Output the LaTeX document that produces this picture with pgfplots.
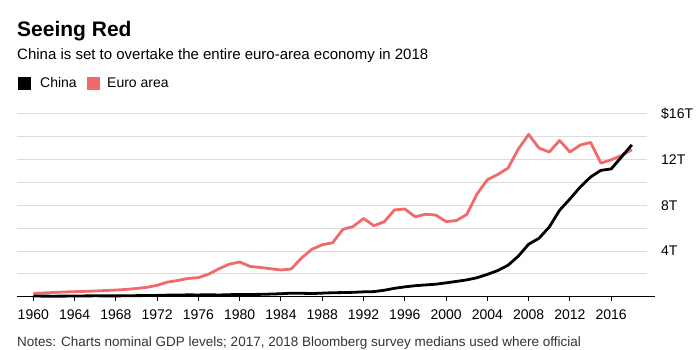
\documentclass[border=0pt]{standalone}
\usepackage{pgfplots}
\pgfplotsset{compat=1.18}
\usepackage{fontspec}
\setmainfont{Liberation Sans}
\definecolor{euro}{HTML}{F0696B}
\definecolor{gridc}{HTML}{DCDCDC}
\definecolor{notec}{HTML}{333333}
\begin{document}
\begin{tikzpicture}
\useasboundingbox (0pt,0pt) rectangle (700pt,350pt);
\node[anchor=base west,inner sep=0pt,font=\fontsize{21}{24}\selectfont\bfseries] at (17pt,313.3pt) {Seeing Red};
\node[anchor=base west,inner sep=0pt,font=\fontsize{15}{18}\selectfont] at (17pt,290pt) {China is set to overtake the entire euro-area economy in 2018};
\fill[black] (18pt,260pt) rectangle (31pt,273pt);
\node[anchor=base west,inner sep=0pt,font=\fontsize{14}{17}\selectfont] at (40pt,262.7pt) {China};
\fill[euro] (87pt,260pt) rectangle (100pt,273pt);
\node[anchor=base west,inner sep=0pt,font=\fontsize{14}{17}\selectfont] at (107pt,262.7pt) {Euro area};
\node[anchor=base west,inner sep=0pt,font=\fontsize{13.5}{16}\selectfont,text=notec] at (17pt,4pt) {Notes: Charts nominal GDP levels; 2017, 2018 Bloomberg survey medians used where official};
\begin{axis}[
  at={(16.7pt,53.3pt)}, anchor=south west,
  scale only axis, width=630.3pt, height=182.7pt,
  xmin=1958.39, xmax=2019.47, ymin=0, ymax=16,
  axis x line=bottom, axis y line=right,
  x axis line style={-, black, line width=1.1pt, shorten >=-8pt},
  y axis line style={draw=none},
  xtick={1960,1964,...,2016},
  xticklabels={1960,1964,1968,1972,1976,1980,1984,1988,1992,1996,2000,2004,2008,2012,2016},
  ytick={2,4,...,16},
  yticklabels={,4T,,8T,,12T,,\$16T},
  ymajorgrids, grid style={gridc, line width=1pt},
  tick align=outside,
  x tick style={black, line width=1pt},
  major tick length=4pt,
  y tick style={draw=none},
  /pgf/number format/assume math mode=true,
  tick label style={font=\fontsize{14}{17}\selectfont},
  yticklabel style={anchor=west, inner sep=0pt, xshift=10pt},
  xticklabel style={anchor=base, inner sep=0pt, yshift=-19pt},
  clip=false,
]
\addplot[euro, line width=2.8pt, line join=round] coordinates {
(1960,0.30)(1961,0.33)(1962,0.37)(1963,0.41)(1964,0.44)(1965,0.47)(1966,0.50)(1967,0.54)(1968,0.58)(1969,0.64)
(1970,0.72)(1971,0.82)(1972,1.00)(1973,1.28)(1974,1.42)(1975,1.60)(1976,1.67)(1977,1.98)(1978,2.45)(1979,2.85)
(1980,3.04)(1981,2.65)(1982,2.56)(1983,2.45)(1984,2.34)(1985,2.43)(1986,3.40)(1987,4.15)(1988,4.55)(1989,4.72)
(1990,5.90)(1991,6.15)(1992,6.85)(1993,6.22)(1994,6.56)(1995,7.60)(1996,7.68)(1997,7.00)(1998,7.22)(1999,7.15)
(2000,6.58)(2001,6.67)(2002,7.20)(2003,9.00)(2004,10.24)(2005,10.70)(2006,11.26)(2007,12.93)(2008,14.21)(2009,13.02)
(2010,12.67)(2011,13.68)(2012,12.67)(2013,13.28)(2014,13.51)(2015,11.70)(2016,11.99)(2017,12.37)(2018,12.87)
};
\addplot[black, line width=2.8pt, line join=round] coordinates {
(1960,0.060)(1961,0.050)(1962,0.047)(1963,0.051)(1964,0.059)(1965,0.070)(1966,0.076)(1967,0.072)(1968,0.070)(1969,0.079)
(1970,0.093)(1971,0.099)(1972,0.114)(1973,0.139)(1974,0.144)(1975,0.163)(1976,0.154)(1977,0.175)(1978,0.150)(1979,0.178)
(1980,0.191)(1981,0.196)(1982,0.205)(1983,0.230)(1984,0.260)(1985,0.309)(1986,0.301)(1987,0.273)(1988,0.312)(1989,0.348)
(1990,0.361)(1991,0.383)(1992,0.427)(1993,0.445)(1994,0.564)(1995,0.734)(1996,0.863)(1997,0.962)(1998,1.029)(1999,1.094)
(2000,1.211)(2001,1.339)(2002,1.471)(2003,1.660)(2004,1.955)(2005,2.286)(2006,2.752)(2007,3.552)(2008,4.598)(2009,5.110)
(2010,6.101)(2011,7.573)(2012,8.561)(2013,9.607)(2014,10.482)(2015,11.065)(2016,11.191)(2017,12.24)(2018,13.3)
};
\end{axis}
\end{tikzpicture}
\end{document}
